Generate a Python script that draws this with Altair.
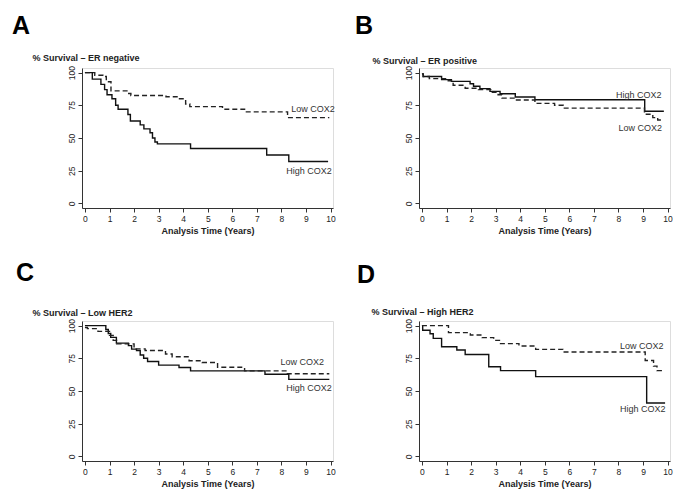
import altair as alt
import pandas as pd

# ---------------- data ----------------
panel_letters = ["A", "B", "C", "D"]
panel_titles = ["% Survival – ER negative", "% Survival – ER positive",
                "% Survival – Low HER2", "% Survival – High HER2"]

# Panel A  (ER negative)
A_high_t = [0, 0.3, 0.65, 0.8, 0.9, 1.1, 1.25, 1.35, 1.75, 1.85, 2.25, 2.4, 2.65, 2.75, 2.85, 2.95, 4.3, 7.4, 8.3, 9.9]
A_high_s = [100, 95, 91, 87, 83, 80, 75, 72, 68, 63, 60, 57, 54, 50, 47, 45.5, 42, 37, 32, 32]
A_low_t = [0, 0.4, 0.73, 0.87, 1.06, 1.75, 1.87, 3.3, 3.8, 4.1, 4.27, 5.6, 6.5, 8.25, 9.95]
A_low_s = [100, 98, 97, 93, 86, 84, 82.5, 81.5, 80, 76, 74, 72, 70, 65.6, 65.6]

# Panel B  (ER positive)
B_high_t = [0, 0.05, 0.8, 1.2, 1.96, 2.1, 2.36, 2.77, 3.18, 3.8, 4.6, 9.07, 9.85]
B_high_s = [99, 97, 94.6, 93.3, 91.5, 89.5, 87.7, 85.6, 83.8, 81.3, 79.2, 70.5, 70.5]
B_low_t = [0, 0.05, 0.3, 1.07, 1.27, 1.76, 2.3, 2.8, 3.1, 3.26, 3.8, 4.6, 5.4, 5.75, 9.06, 9.4, 9.6, 9.85]
B_low_s = [99, 97, 95.4, 93.8, 90.3, 88, 87, 85, 83, 80.5, 79, 76.5, 75, 72.8, 68.2, 65.6, 63.8, 63.8]

# Panel C  (Low HER2)
C_high_t = [0, 0.85, 0.95, 1.05, 1.28, 1.77, 1.9, 2.1, 2.25, 2.39, 2.55, 3.0, 3.83, 4.3, 7.33, 8.3, 9.95]
C_high_s = [100, 97, 94, 91, 86.6, 84.7, 82, 81, 77.5, 75, 72.5, 69.8, 68, 65.4, 62.8, 58.9, 58.9]
C_low_t = [0, 0.1, 0.53, 1.0, 1.15, 1.29, 2.0, 2.45, 3.28, 3.55, 4.24, 4.77, 5.4, 6.5, 8.23, 9.95]
C_low_s = [98.5, 97.7, 95.6, 92.5, 88.7, 86, 82.2, 80.9, 78.3, 76.2, 73.1, 71.8, 68.2, 65.4, 63.2, 63.2]

# Panel D  (High HER2)
D_high_t = [0, 0.03, 0.33, 0.46, 0.8, 1.42, 1.76, 2.72, 3.2, 4.63, 9.15, 9.9]
D_high_s = [100, 96.4, 93.8, 90.2, 83.8, 81.3, 77.9, 68.5, 65.6, 61, 40.8, 40.8]
D_low_t = [0, 1.08, 1.97, 2.45, 2.92, 3.2, 3.95, 4.63, 5.74, 9.09, 9.43, 9.57, 9.8]
D_low_s = [100, 94.6, 92.8, 90.8, 88.7, 86.2, 84.4, 81.8, 79.8, 73.3, 69, 65.6, 65.6]

# curve labels: (text, time, survival)
label_text = ["Low COX2", "High COX2"]
A_label_t = [8.4, 8.2]
A_label_s = [72, 24.6]
B_label_t = [8.0, 7.9]
B_label_s = [57.4, 83]
C_label_t = [7.96, 8.2]
C_label_s = [72.4, 52.2]
D_label_t = [8.06, 8.06]
D_label_s = [84.6, 35.9]

panels = [
    (A_high_t, A_high_s, A_low_t, A_low_s, A_label_t, A_label_s),
    (B_high_t, B_high_s, B_low_t, B_low_s, B_label_t, B_label_s),
    (C_high_t, C_high_s, C_low_t, C_low_s, C_label_t, C_label_s),
    (D_high_t, D_high_s, D_low_t, D_low_s, D_label_t, D_label_s),
]

# ---------------- layout / style ----------------
W, H = 251, 140
FONT = "Liberation Sans"
letter_pos = [(-70, -34), (-64, -34), (-66, -40), (-62, -38)]
title_pos = [(-50, -11), (-47, -8), (-50, -9), (-48, -10)]


def make_panel(i):
    hi_t, hi_s, lo_t, lo_s, lab_t, lab_s = panels[i]
    hi = pd.DataFrame({"t": hi_t, "s": hi_s})
    lo = pd.DataFrame({"t": lo_t, "s": lo_s})
    lab = pd.DataFrame({"t": lab_t, "s": lab_s, "label": label_text})
    let = pd.DataFrame({"letter": [panel_letters[i]]})

    x_enc = alt.X("t:Q",
                  scale=alt.Scale(domain=[-0.12, 10.1], nice=False, zero=False),
                  axis=alt.Axis(values=list(range(0, 11)), title="Analysis Time (Years)",
                                titleFontWeight="bold", titleFontSize=9, titleFont=FONT,
                                titlePadding=4, titleColor="#222",
                                labelFont=FONT, labelFontSize=8.5, labelColor="#222",
                                labelPadding=2, tickSize=4, grid=False,
                                domainColor="#333", tickColor="#333", labelFlush=False))
    y_enc = alt.Y("s:Q",
                  scale=alt.Scale(domain=[-3.5, 103.5], nice=False, zero=False),
                  axis=alt.Axis(values=[0, 25, 50, 75, 100], title=panel_titles[i],
                                titleAngle=0, titleAlign="left", titleBaseline="middle",
                                titleX=title_pos[i][0], titleY=title_pos[i][1],
                                titleFontWeight="bold", titleFontSize=9, titleFont=FONT,
                                titleColor="#222",
                                labelAngle=270, labelAlign="center", labelBaseline="bottom",
                                labelFont=FONT, labelFontSize=8.5, labelColor="#222",
                                labelPadding=2, tickSize=4, grid=False,
                                domainColor="#333", tickColor="#333", labelFlush=False))

    high_line = alt.Chart(hi).mark_line(interpolate="step-after", color="#111",
                                        strokeWidth=1.4).encode(x=x_enc, y=y_enc)
    low_line = alt.Chart(lo).mark_line(interpolate="step-after", color="#222",
                                       strokeWidth=1.4, strokeDash=[5, 3]).encode(x=x_enc, y=y_enc)
    labels = alt.Chart(lab).mark_text(align="left", baseline="middle", font=FONT,
                                      fontSize=9, color="#333").encode(
        x=x_enc, y=y_enc, text="label:N")
    letter = alt.Chart(let).mark_text(align="left", baseline="alphabetic", font=FONT,
                                      fontSize=25, fontWeight="bold", color="black").encode(
        x=alt.value(letter_pos[i][0]), y=alt.value(letter_pos[i][1]), text="letter:N")
    return alt.layer(high_line, low_line, labels, letter).properties(width=W, height=H)


chart = alt.concat(*[make_panel(i) for i in range(4)], columns=2,
                   spacing=alt.RowColnumber(row=113, column=86),
                   bounds="flush").properties(
    padding={"left": 3, "top": 5, "right": 2, "bottom": 2}
).configure_view(stroke=None).configure(background="white")

chart.save("out.html", embed_options={"renderer": "svg", "actions": False})
